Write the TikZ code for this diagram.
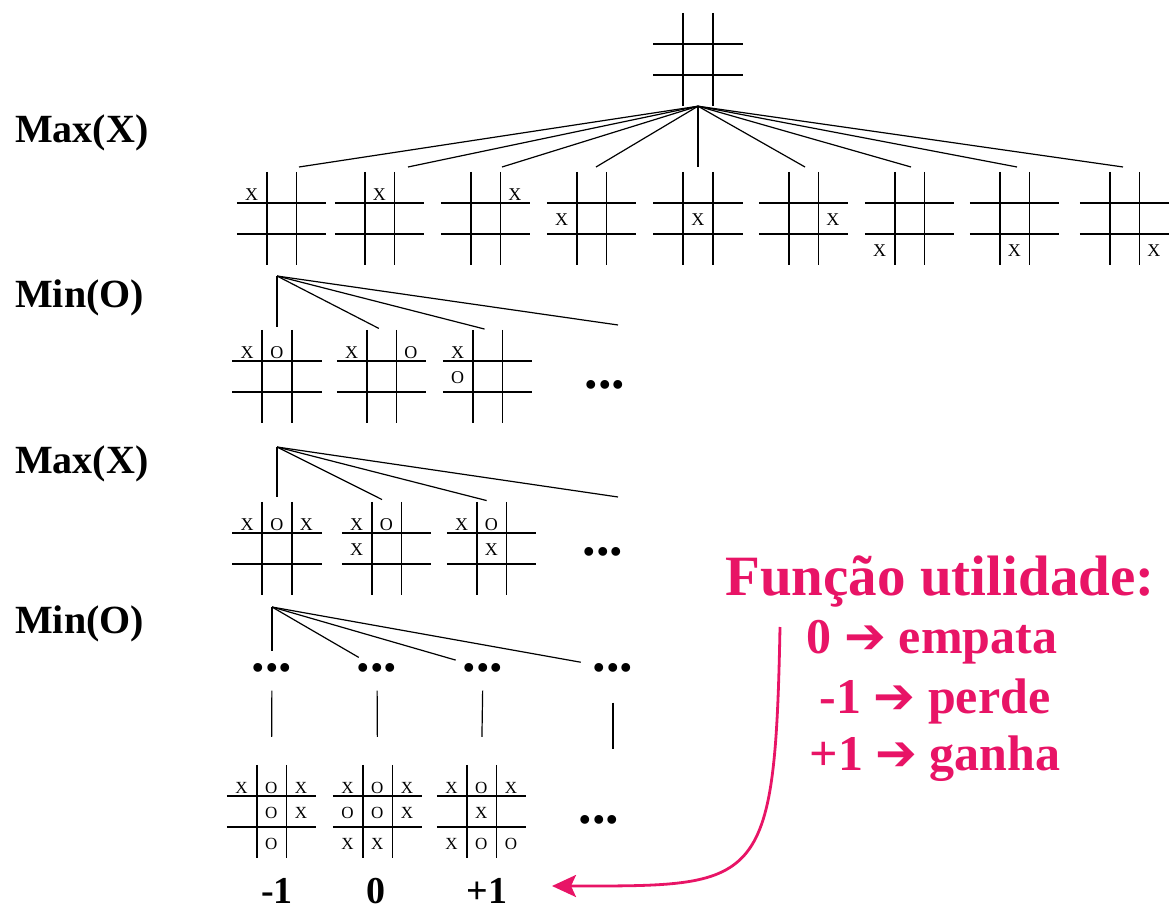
\documentclass[tikz,border=0pt]{standalone}
\usepackage{fontspec}
\setmainfont{Liberation Serif}
\newfontfamily\arrowfont{DejaVu Sans}
\usetikzlibrary{positioning,calc,arrows.meta}
\definecolor{utilpink}{RGB}{232,20,102}

% empty tic-tac-toe grid: name, left, top
\newcommand{\tttgrid}[3]{%
  \node[board] (#1) at (#2+44.5,#3+46.5) {};
  \foreach \k in {1,2} {
    \draw[boardline] ($(#1.north west)!\k/3!(#1.north east)$) -- ($(#1.south west)!\k/3!(#1.south east)$);
    \draw[boardline] ($(#1.north west)!\k/3!(#1.south west)$) -- ($(#1.north east)!\k/3!(#1.south east)$);
  }
}
% symbols in a grid: [style], name, list of col/row/symbol
\newcommand{\tttmarks}[3][tttsym]{%
  \foreach \col/\row/\sym in {#3} {
    \ifnum\row=1 \def\fy{0.75}\else\def\fy{0.55}\fi
    \node[#1] at ($(#2.north west)+({(\col-0.5)*89/3},{(\row-1+\fy)*93/3})$) {\sym};
  }
}

\begin{document}
\begin{tikzpicture}[x=1pt, y=-1pt,
    board/.style={rectangle, inner sep=0pt, minimum width=89pt, minimum height=93pt},
    boardline/.style={line width=1.8pt},
    fan/.style={line width=1.2pt},
    stem/.style={line width=1.2pt},
    tttsym/.style={inner sep=0pt, font=\fontsize{18}{18}\selectfont},
    smallsym/.style={inner sep=0pt, font=\fontsize{17}{17}\selectfont},
    playerlabel/.style={anchor=base west, inner sep=0pt, font=\fontsize{40}{40}\selectfont\bfseries},
    dots/.style={inner sep=0pt, font=\fontsize{54}{54}\selectfont\bfseries},
    value/.style={anchor=base, inner sep=0pt, font=\fontsize{38}{38}\selectfont\bfseries},
    util/.style={anchor=base, text=utilpink, inner sep=0pt, font=\fontsize{50}{50}\selectfont\bfseries}]
    \useasboundingbox (0,0) rectangle (1170,909);

    % Player labels
    \node[playerlabel] (p1) at (15,143) {Max(X)};
    \node[playerlabel] (p2) at (15,308) {Min(O)};
    \node[playerlabel] (p3) at (15,473) {Max(X)};
    \node[playerlabel] (p4) at (15,633) {Min(O)};

    % Empty board and the nine first moves
    \tttgrid{b0}{653.5}{13}
    \foreach \n/\lft in {1/237, 2/335, 3/441, 4/547, 5/653.5, 6/759, 7/865, 8/970, 9/1080} {
        \tttgrid{b\n}{\lft}{172}
    }
    \foreach \n/\cc/\rr in {1/1/1, 2/2/1, 3/3/1, 4/1/2, 5/2/2, 6/3/2, 7/1/3, 8/2/3, 9/3/3} {
        \tttmarks{b\n}{\cc/\rr/X}
    }
    \foreach \n/\ex in {1/299, 2/408, 3/502, 4/596, 5/698, 6/805, 7/911, 8/1017, 9/1123} {
        \coordinate (e\n) at (\ex,167);
        \draw[fan] (b0.south) -- (e\n);
    }

    % Replies of O
    \coordinate (r1) at (277,276);
    \tttgrid{m1}{232.5}{330}
    \tttgrid{m2}{337}{330}
    \tttgrid{m3}{443}{330}
    \tttmarks{m1}{1/1/X, 2/1/O}
    \tttmarks{m2}{1/1/X, 3/1/O}
    \tttmarks{m3}{1/1/X, 1/2/O}
    \node[dots] (m4) at (605,385) {...};
    \coordinate (m4top) at (618,325);
    \foreach \n in {1,2,3} {
        \draw[fan, shorten >=3pt] (r1) -- (m\n.north);
    }
    \draw[fan] (r1) -- (m4top);

    % Second move of X
    \coordinate (r2) at (277,447);
    \tttgrid{x1}{232.5}{502}
    \tttgrid{x2}{342}{502}
    \tttgrid{x3}{447}{502}
    \tttmarks{x1}{1/1/X, 2/1/O, 3/1/X}
    \tttmarks{x2}{1/1/X, 2/1/O, 1/2/X}
    \tttmarks{x3}{1/1/X, 2/1/O, 2/2/X}
    \node[dots] (x4) at (603,552) {...};
    \coordinate (x4top) at (618,497);
    \foreach \n in {1,2,3} {
        \draw[fan, shorten >=5pt] (r2) -- (x\n.north);
    }
    \draw[fan] (r2) -- (x4top);

    % Deeper levels
    \coordinate (r3) at (272,607);
    \foreach \n/\dx in {1/272, 2/377, 3/483, 4/613} {
        \node[dots] (d\n) at (\dx,668) {...};
        \draw[fan, shorten >=12pt] (r3) -- (d\n);
    }

    % Final positions
    \tttgrid{t1}{227}{765}
    \tttgrid{t2}{333}{765}
    \tttgrid{t3}{437}{765}
    \tttmarks[smallsym]{t1}{1/1/X, 2/1/O, 3/1/X, 2/2/O, 3/2/X, 2/3/O}
    \tttmarks[smallsym]{t2}{1/1/X, 2/1/O, 3/1/X, 1/2/O, 2/2/O, 3/2/X, 1/3/X, 2/3/X}
    \tttmarks[smallsym]{t3}{1/1/X, 2/1/O, 3/1/X, 2/2/X, 1/3/X, 2/3/O, 3/3/O}
    \node[dots] (t4) at (599,820) {...};
    \foreach \n in {1,2,3} {
        \draw[stem, shorten <=18pt, shorten >=28pt] (d\n) -- (t\n.north);
    }
    \coordinate (s4) at (613,749);
    \draw[stem, shorten <=30pt] (d4) -- (s4);

    % Utility values
    \node[value] (v1) at (277,903) {-1};
    \node[value] (v2) at (376,903) {0};
    \node[value] (v3) at (487,903) {+1};

    % Utility function
    \node[util, font=\fontsize{57}{57}\selectfont\bfseries] (title) at (940,595) {Função utilidade:};
    \node[util] (rule1) at (932,653) {0 {\arrowfont ➔} empata};
    \node[util] (rule2) at (935,713) {-1 {\arrowfont ➔} perde};
    \node[util] (rule3) at (935,770) {+1 {\arrowfont ➔} ganha};
    \coordinate (ustart) at (780,627);
    \coordinate (utip) at (552,886);
    \draw[utilpink, line width=2.8pt, -{Stealth[length=24pt, width=22pt, inset=5pt]}]
        (ustart) .. controls (775,890) and (760,886) .. (utip);
\end{tikzpicture}
\end{document}
